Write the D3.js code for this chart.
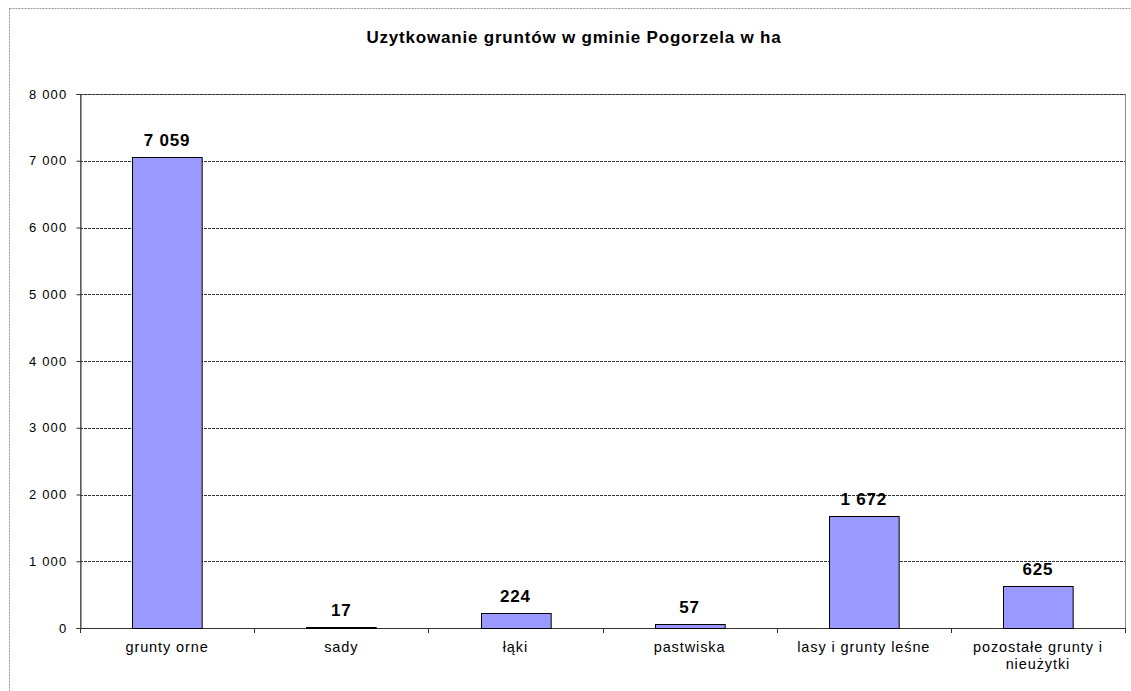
<!DOCTYPE html>
<html>
<head>
<meta charset="utf-8">
<script src="https://cdn.jsdelivr.net/npm/d3@7"></script>
<style>
  body { margin: 0; background: #fff; }
  text { font-family: Arial, "Liberation Sans", sans-serif; fill: #000; }
</style>
</head>
<body>
<div id="chart"></div>
<script>
var categories = ["grunty orne", "sady", "łąki", "pastwiska", "lasy i grunty leśne", "pozostałe grunty i nieużytki"];
var values = [7059, 17, 224, 57, 1672, 625];
var yTicks = [0, 1000, 2000, 3000, 4000, 5000, 6000, 7000, 8000];
var title = "Uzytkowanie gruntów w gminie Pogorzela w ha";

var width = 1131, height = 691;
var margin = {top: 94, right: 6, bottom: 63, left: 80};

var svg = d3.select("#chart").append("svg")
  .attr("width", width)
  .attr("height", height);

// outer chart border (dashed, runs off the picture)
svg.append("rect")
  .attr("x", 9.5).attr("y", 8.5)
  .attr("width", 1140).attr("height", 700)
  .attr("fill", "none")
  .attr("stroke", "#999")
  .attr("stroke-dasharray", "2,1");

var fmt = function(v) { return d3.format(",")(v).replace(/,/g, " "); };

var x = d3.scaleBand()
  .domain(categories)
  .range([margin.left, width - margin.right])
  .paddingInner(0.6)
  .paddingOuter(0.3);

var y = d3.scaleLinear()
  .domain([0, 8000])
  .range([height - margin.bottom, margin.top]);

var plotL = margin.left, plotR = width - margin.right;

// plot area border
svg.append("rect")
  .attr("x", plotL + 0.5).attr("y", y(8000) + 0.5)
  .attr("width", plotR - plotL).attr("height", y(0) - y(8000))
  .attr("fill", "none")
  .attr("stroke", "#888");

// gridlines
svg.append("g")
  .selectAll("line")
  .data(yTicks)
  .enter().append("line")
  .attr("x1", plotL).attr("x2", plotR)
  .attr("y1", d => Math.round(y(d)) + 0.5)
  .attr("y2", d => Math.round(y(d)) + 0.5)
  .attr("stroke", "#333")
  .attr("stroke-width", 1)
  .attr("stroke-dasharray", d => d === 0 ? null : "3,1");

// y axis
var yAxis = svg.append("g")
  .attr("transform", "translate(" + (plotL + 0.5) + ",0)")
  .call(d3.axisLeft(y).tickValues(yTicks).tickSize(4).tickPadding(9).tickFormat(fmt));
yAxis.select(".domain").attr("stroke", "#333");
yAxis.selectAll(".tick line").attr("stroke", "#333");
yAxis.selectAll("text").attr("font-size", 13).attr("fill", "#000")
  .attr("letter-spacing", 1.2)
  .style("font-family", "Arial, 'Liberation Sans', sans-serif");

// category ticks at band boundaries
var bounds = d3.range(categories.length + 1).map(i => plotL + (plotR - plotL) * i / categories.length);
svg.append("g")
  .selectAll("line")
  .data(bounds)
  .enter().append("line")
  .attr("x1", d => Math.round(d) + 0.5).attr("x2", d => Math.round(d) + 0.5)
  .attr("y1", y(0)).attr("y2", y(0) + 5)
  .attr("stroke", "#333");

// bars
svg.append("g")
  .selectAll("rect")
  .data(values)
  .enter().append("rect")
  .attr("x", (d, i) => Math.round(x(categories[i])) + 0.5)
  .attr("y", d => Math.round(y(d)) + 0.5)
  .attr("width", x.bandwidth())
  .attr("height", d => Math.round(y(0)) - Math.round(y(d)))
  .attr("fill", "#9999ff")
  .attr("stroke", "#000")
  .attr("stroke-width", 1);

// value labels
svg.append("g")
  .selectAll("text")
  .data(values)
  .enter().append("text")
  .attr("x", (d, i) => x(categories[i]) + x.bandwidth() / 2)
  .attr("y", d => y(d) - 11)
  .attr("text-anchor", "middle")
  .attr("font-size", 17)
  .attr("font-weight", "bold")
  .attr("letter-spacing", 0.8)
  .text(fmt);

// category labels
var catLabels = [["grunty orne"], ["sady"], ["łąki"], ["pastwiska"], ["lasy i grunty leśne"], ["pozostałe grunty i", "nieużytki"]];
svg.append("g")
  .selectAll("text")
  .data(catLabels)
  .enter().append("text")
  .attr("x", (d, i) => x(categories[i]) + x.bandwidth() / 2)
  .attr("y", y(0) + 24)
  .attr("text-anchor", "middle")
  .attr("font-size", 14.5)
  .attr("letter-spacing", 0.9)
  .each(function(lines) {
    var t = d3.select(this);
    lines.forEach(function(l, j) {
      t.append("tspan")
        .attr("x", t.attr("x"))
        .attr("dy", j === 0 ? 0 : 17)
        .text(l);
    });
  });

// title
svg.append("text")
  .attr("x", 574)
  .attr("y", 43)
  .attr("text-anchor", "middle")
  .attr("font-size", 17)
  .attr("font-weight", "bold")
  .attr("letter-spacing", 0.8)
  .text(title);
</script>
</body>
</html>
